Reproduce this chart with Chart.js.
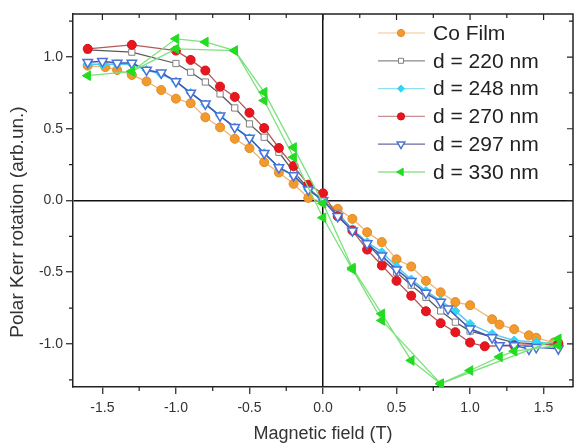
<!DOCTYPE html>
<html>
<head>
<meta charset="utf-8">
<script src="https://cdn.jsdelivr.net/npm/chart.js@4/dist/chart.umd.min.js"></script>
<style>
  html, body { margin: 0; padding: 0; background: #fff; }
  #wrap { width: 574px; height: 443px; position: relative; }
</style>
</head>
<body>
<div id="wrap"><canvas id="grafica"></canvas></div>
<script>
// Magnetic field (T) and polar Kerr rotation (arb. un.)
const seriesNames = ["Co Film", "d = 220 nm", "d = 248 nm", "d = 270 nm", "d = 297 nm", "d = 330 nm"];

const coFilmX = [-1.6, -1.48, -1.4, -1.3, -1.2, -1.1, -1.0, -0.9, -0.8, -0.7, -0.6, -0.5, -0.4, -0.3, -0.2, -0.1, 0.0, 0.1, 0.2, 0.3, 0.4, 0.5, 0.6, 0.7, 0.8, 0.9, 1.0, 1.15, 1.2, 1.3, 1.4, 1.45, 1.57, 1.6];
const coFilmY = [0.94, 0.93, 0.91, 0.875, 0.83, 0.77, 0.71, 0.678, 0.58, 0.51, 0.43, 0.365, 0.267, 0.195, 0.116, 0.018, -0.01, -0.058, -0.128, -0.221, -0.29, -0.41, -0.46, -0.56, -0.64, -0.708, -0.73, -0.828, -0.865, -0.897, -0.94, -0.957, -0.99, -0.99];

const d220X = [-1.6, -1.3, -1.0, -0.9, -0.8, -0.7, -0.6, -0.5, -0.4, -0.3, -0.2, -0.1, 0.0, 0.1, 0.2, 0.3, 0.4, 0.5, 0.6, 0.7, 0.8, 0.9, 1.0, 1.15, 1.3, 1.45, 1.6];
const d220Y = [1.05, 1.034, 0.955, 0.894, 0.826, 0.743, 0.645, 0.534, 0.441, 0.336, 0.2, 0.085, 0.0, -0.09, -0.2, -0.3, -0.41, -0.5, -0.59, -0.675, -0.77, -0.848, -0.91, -0.95, -0.99, -1.0, -1.01];

const d248X = [-1.6, -1.5, -1.4, -1.3, -1.2, -1.1, -1.0, -0.9, -0.8, -0.7, -0.6, -0.5, -0.4, -0.3, -0.2, -0.1, 0.0, 0.1, 0.2, 0.3, 0.4, 0.5, 0.6, 0.7, 0.8, 0.9, 1.0, 1.15, 1.3, 1.45, 1.6];
const d248Y = [0.95, 0.95, 0.95, 0.95, 0.91, 0.88, 0.83, 0.75, 0.67, 0.59, 0.51, 0.435, 0.33, 0.23, 0.17, 0.075, 0.0, -0.1, -0.2, -0.29, -0.36, -0.46, -0.55, -0.63, -0.7, -0.77, -0.86, -0.93, -0.976, -0.987, -1.0];

const d270X = [-1.6, -1.3, -1.0, -0.9, -0.8, -0.7, -0.6, -0.5, -0.4, -0.3, -0.2, -0.1, 0.0, 0.1, 0.2, 0.3, 0.4, 0.5, 0.6, 0.7, 0.8, 0.9, 1.0, 1.1, 1.3, 1.6];
const d270Y = [1.057, 1.085, 1.045, 0.98, 0.906, 0.794, 0.722, 0.612, 0.505, 0.366, 0.24, 0.11, 0.05, -0.11, -0.21, -0.342, -0.453, -0.56, -0.664, -0.772, -0.855, -0.918, -0.99, -1.016, -1.01, -1.0];

const d297X = [-1.6, -1.5, -1.4, -1.3, -1.2, -1.1, -1.0, -0.9, -0.8, -0.7, -0.6, -0.5, -0.4, -0.3, -0.2, -0.1, 0.0, 0.1, 0.2, 0.3, 0.4, 0.5, 0.6, 0.7, 0.8, 0.85, 1.0, 1.15, 1.2, 1.3, 1.4, 1.45, 1.6];
const d297Y = [0.964, 0.97, 0.958, 0.958, 0.91, 0.89, 0.83, 0.75, 0.674, 0.59, 0.51, 0.435, 0.33, 0.23, 0.175, 0.075, 0.0, -0.11, -0.21, -0.3, -0.385, -0.482, -0.563, -0.645, -0.708, -0.755, -0.894, -0.955, -1.01, -1.01, -1.035, -1.023, -1.033];

// d = 330 nm is a loop: sweep up then back down
const d330X = [-1.6, -1.3, -1.0, -0.8, -0.6, -0.4, -0.2, 0.0, 0.2, 0.4, 0.6, 0.8, 1.0, 1.2, 1.3, 1.6, 1.6, 0.8, 0.4, 0.2, 0.0, -0.2, -0.4, -0.6, -1.0, -1.3];
const d330Y = [0.87, 0.9, 1.127, 1.105, 1.045, 0.755, 0.37, -0.02, -0.47, -0.79, -1.115, -1.277, -1.185, -1.09, -1.05, -1.01, -0.964, -1.277, -0.836, -0.48, -0.12, 0.302, 0.697, 1.045, 1.057, 0.9];

const xTicks = [-1.5, -1.0, -0.5, 0.0, 0.5, 1.0, 1.5];
const yTicks = [-1.0, -0.5, 0.0, 0.5, 1.0];
const xMinor = [-1.25, -0.75, -0.25, 0.25, 0.75, 1.25];
const yMinor = [-1.25, -0.75, -0.25, 0.25, 0.75, 1.25];

function pts(xs, ys) {
    return xs.map((x, i) => ({ x: x, y: ys[i] }));
}

const font = "'Liberation Sans', Arial, sans-serif";

// frame on top / right, minor ticks, inward ticks
const framePlugin = {
    id: "frame",
    beforeDatasetsDraw(chart) {
        const { ctx, chartArea: a, scales } = chart;
        const xs = scales.x, ys = scales.y;
        ctx.save();
        ctx.strokeStyle = "#222";
        ctx.lineWidth = 1.5;
        ctx.beginPath();
        ctx.moveTo(a.left, a.top);
        ctx.lineTo(a.right, a.top);
        ctx.lineTo(a.right, a.bottom);
        ctx.stroke();
        ctx.lineWidth = 1.2;
        ctx.beginPath();
        xMinor.forEach(v => {
            const p = xs.getPixelForValue(v);
            ctx.moveTo(p, a.bottom); ctx.lineTo(p, a.bottom + 4);
            ctx.moveTo(p, a.top); ctx.lineTo(p, a.top + 4);
        });
        xTicks.forEach(v => {
            const p = xs.getPixelForValue(v);
            ctx.moveTo(p, a.top); ctx.lineTo(p, a.top + 6);
        });
        yMinor.forEach(v => {
            const p = ys.getPixelForValue(v);
            ctx.moveTo(a.left, p); ctx.lineTo(a.left - 4, p);
            ctx.moveTo(a.right, p); ctx.lineTo(a.right - 4, p);
        });
        yTicks.forEach(v => {
            const p = ys.getPixelForValue(v);
            ctx.moveTo(a.right, p); ctx.lineTo(a.right - 6, p);
        });
        ctx.stroke();
        ctx.restore();
    },
    afterDraw(chart) {
        const ctx = chart.ctx;
        // y axis title
        ctx.save();
        ctx.fillStyle = "#333";
        ctx.font = "19px " + font;
        ctx.textAlign = "center";
        ctx.textBaseline = "middle";
        ctx.translate(18, 222);
        ctx.rotate(-Math.PI / 2);
        ctx.fillText("Polar Kerr rotation (arb.un.)", 0, 0);
        ctx.restore();

        // legend inside the plot
        ctx.save();
        ctx.font = "21px " + font;
        ctx.textBaseline = "middle";
        chart.data.datasets.forEach((ds, i) => {
            const y = 33 + i * 27.8;
            ctx.strokeStyle = ds.legendLine;
            ctx.lineWidth = 1.2;
            ctx.beginPath();
            ctx.moveTo(378, y); ctx.lineTo(425, y);
            ctx.stroke();
            ctx.fillStyle = ds.pointBackgroundColor;
            ctx.strokeStyle = ds.pointBorderColor;
            ctx.lineWidth = ds.pointBorderWidth;
            Chart.helpers.drawPoint(ctx, {
                pointStyle: ds.pointStyle,
                radius: ds.pointRadius * 0.8,
                rotation: ds.pointRotation || 0,
                borderWidth: ds.pointBorderWidth
            }, 401, y);
            ctx.fillStyle = "#222";
            ctx.fillText(ds.label, 433, y + 1);
        });
        ctx.restore();
    }
};

const ctx = document.getElementById("grafica").getContext("2d");
new Chart(ctx, {
    type: "line",
    data: {
        datasets: [
            {
                label: seriesNames[0], data: pts(coFilmX, coFilmY),
                borderColor: "#ecb57a", legendLine: "#efc58f", borderWidth: 1.3,
                pointStyle: "circle", pointRadius: 4.5, pointBorderWidth: 1,
                pointBackgroundColor: "#f39a2e", pointBorderColor: "#e48a20", order: 6
            },
            {
                label: seriesNames[1], data: pts(d220X, d220Y),
                borderColor: "#5a5a5a", legendLine: "#8a8a8a", borderWidth: 1.3,
                pointStyle: "rect", pointRadius: 4.4, pointBorderWidth: 1,
                pointBackgroundColor: "#ffffff", pointBorderColor: "#808080", order: 5
            },
            {
                label: seriesNames[2], data: pts(d248X, d248Y),
                borderColor: "#5ec8ee", legendLine: "#8fe0f4", borderWidth: 1.5,
                pointStyle: "rectRot", pointRadius: 4.5, pointBorderWidth: 1,
                pointBackgroundColor: "#2fd6f6", pointBorderColor: "#2fd6f6", order: 4
            },
            {
                label: seriesNames[3], data: pts(d270X, d270Y),
                borderColor: "#b25a5a", legendLine: "#c89090", borderWidth: 1.3,
                pointStyle: "circle", pointRadius: 4.5, pointBorderWidth: 1,
                pointBackgroundColor: "#e8161e", pointBorderColor: "#d81016", order: 3
            },
            {
                label: seriesNames[4], data: pts(d297X, d297Y),
                borderColor: "#3c58b8", legendLine: "#6a6aa0", borderWidth: 1.5,
                pointStyle: "triangle", pointRotation: 180, pointRadius: 5.5, pointBorderWidth: 1.5,
                pointBackgroundColor: "#ffffff", pointBorderColor: "#4a72d8", order: 2
            },
            {
                label: seriesNames[5], data: pts(d330X, d330Y),
                borderColor: "#7de27d", legendLine: "#5cd85c", borderWidth: 1.3,
                pointStyle: "triangle", pointRotation: -90, pointRadius: 5.5, pointBorderWidth: 1,
                pointBackgroundColor: "#22dc22", pointBorderColor: "#22dc22", order: 1
            }
        ]
    },
    options: {
        responsive: true,
        maintainAspectRatio: false,
        animation: false,
        layout: { autoPadding: false, padding: { top: 14, right: 1, left: 0, bottom: 0 } },
        elements: { line: { tension: 0 } },
        plugins: {
            legend: { display: false },
            tooltip: { enabled: false }
        },
        scales: {
            x: {
                type: "linear",
                min: -1.7,
                max: 1.7,
                afterBuildTicks: s => { s.ticks = xTicks.map(v => ({ value: v })); },
                afterFit: s => { s.height = 56; s.paddingLeft = 0; s.paddingRight = 0; },
                ticks: {
                    padding: 6,
                    color: "#333",
                    font: { family: font, size: 14 },
                    callback: v => Number(v).toFixed(1)
                },
                grid: {
                    color: c => (c.tick && c.tick.value === 0 ? "#111" : "rgba(0,0,0,0)"),
                    lineWidth: 1.5,
                    tickColor: "#222",
                    tickLength: 7,
                    tickWidth: 1.2
                },
                border: { display: true, color: "#222", width: 1.5 },
                title: {
                    display: true,
                    text: "Magnetic field (T)",
                    color: "#333",
                    font: { family: font, size: 18, lineHeight: 1 },
                    padding: { top: 0, bottom: 0 }
                }
            },
            y: {
                type: "linear",
                min: -1.3,
                max: 1.3,
                afterBuildTicks: s => { s.ticks = yTicks.map(v => ({ value: v })); },
                afterFit: s => { s.width = 73; s.paddingTop = 0; s.paddingBottom = 0; },
                ticks: {
                    padding: 3,
                    color: "#333",
                    font: { family: font, size: 14 },
                    callback: v => Number(v).toFixed(1)
                },
                grid: {
                    color: c => (c.tick && c.tick.value === 0 ? "#111" : "rgba(0,0,0,0)"),
                    lineWidth: 1.5,
                    tickColor: "#222",
                    tickLength: 7,
                    tickWidth: 1.2
                },
                border: { display: true, color: "#222", width: 1.5 }
            }
        }
    },
    plugins: [framePlugin]
});
</script>
</body>
</html>
